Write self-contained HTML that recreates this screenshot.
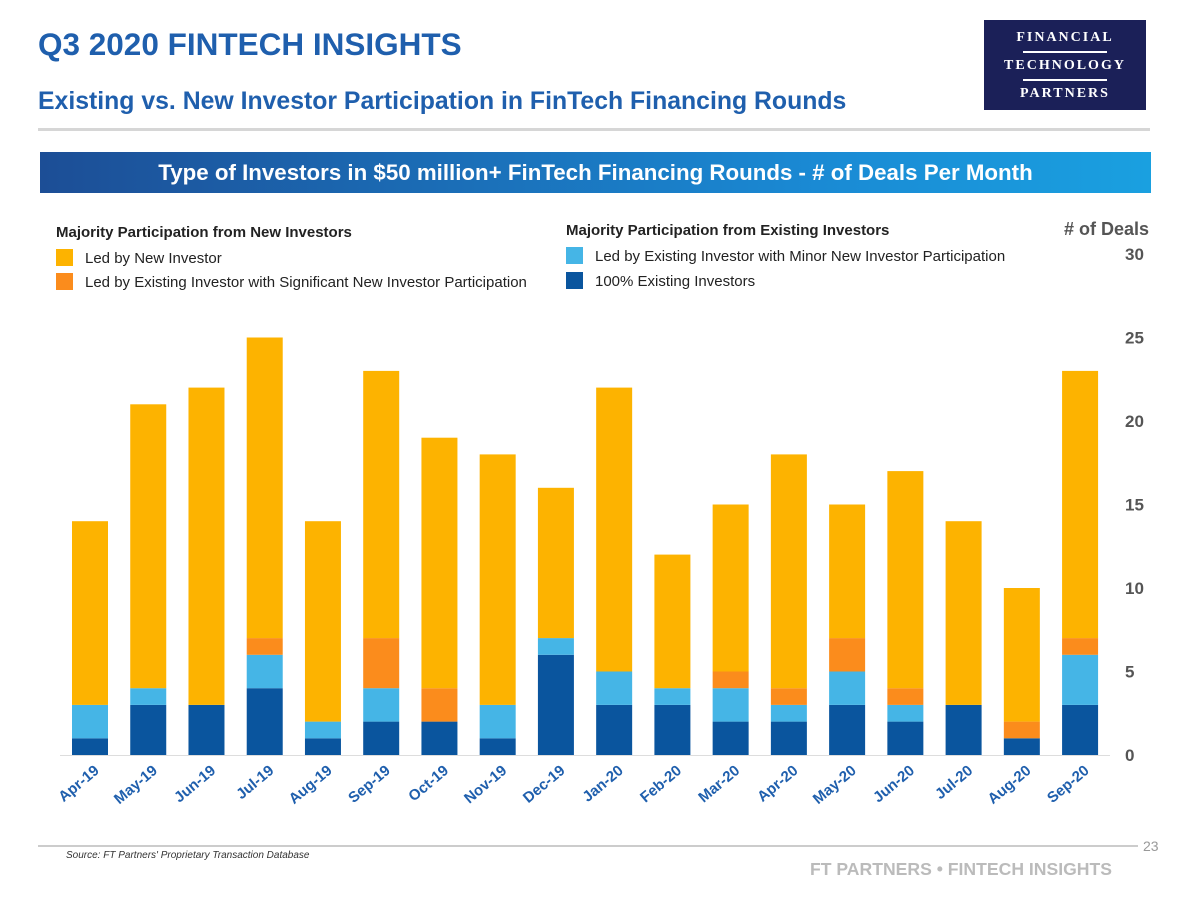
<!DOCTYPE html>
<html><head><meta charset="utf-8"><style>
body{margin:0;width:1200px;height:900px;background:#fff;font-family:"Liberation Sans",sans-serif;overflow:hidden;position:relative}
.abs{position:absolute}
</style></head><body>
<div class="abs" style="left:38px;top:26px;font-size:31.5px;font-weight:bold;color:#1f5fad">Q3 2020 FINTECH INSIGHTS</div>
<div class="abs" style="left:38px;top:88px;font-size:24.8px;font-weight:bold;color:#1f5fad">Existing vs. New Investor Participation in FinTech Financing Rounds</div>
<div class="abs" style="left:984px;top:20px;width:162px;height:90px;background:#1b2058;color:#fff;font-family:'Liberation Serif',serif;font-weight:bold;text-align:center;letter-spacing:2px;font-size:14px">
<div style="margin-top:10px">FINANCIAL</div>
<div style="width:84px;height:2px;background:#fff;margin:5px auto"></div>
<div>TECHNOLOGY</div>
<div style="width:84px;height:2px;background:#fff;margin:5px auto"></div>
<div>PARTNERS</div></div>
<div class="abs" style="left:38px;top:128px;width:1112px;height:3px;background:#d6d6d6"></div>
<div class="abs" style="left:40px;top:152px;width:1111px;height:41px;background:linear-gradient(90deg,#1c4e96,#1a8ad4 70%,#1aa0e0);color:#fff;font-size:22.3px;font-weight:bold;text-align:center;line-height:41px">Type of Investors in $50 million+ FinTech Financing Rounds - # of Deals Per Month</div>
<div class="abs" style="left:56px;top:224px;font-size:15px;font-weight:bold;color:#222">Majority Participation from New Investors</div>
<div class="abs" style="left:56px;top:249px;font-size:15px;color:#222"><span style="display:inline-block;width:17px;height:17px;background:#fdb300;vertical-align:-3px;margin-right:12px"></span>Led by New Investor</div>
<div class="abs" style="left:56px;top:273px;font-size:15px;color:#222"><span style="display:inline-block;width:17px;height:17px;background:#fb8c1c;vertical-align:-3px;margin-right:12px"></span>Led by Existing Investor with Significant New Investor Participation</div>
<div class="abs" style="left:566px;top:222px;font-size:15px;font-weight:bold;color:#222">Majority Participation from Existing Investors</div>
<div class="abs" style="left:566px;top:247px;font-size:15px;color:#222"><span style="display:inline-block;width:17px;height:17px;background:#45b5e6;vertical-align:-3px;margin-right:12px"></span>Led by Existing Investor with Minor New Investor Participation</div>
<div class="abs" style="left:566px;top:272px;font-size:15px;color:#222"><span style="display:inline-block;width:17px;height:17px;background:#0a559e;vertical-align:-3px;margin-right:12px"></span>100% Existing Investors</div>
<div class="abs" style="left:1064px;top:219px;font-size:18px;font-weight:bold;color:#555">#&nbsp;of Deals</div>
<svg class="abs" id="chart" style="left:0;top:0" width="1200" height="900"></svg>
<div class="abs" style="left:38px;top:845px;width:1100px;height:2px;background:#ccc"></div>
<div class="abs" style="left:66px;top:850px;font-size:10px;font-style:italic;color:#333">Source: FT Partners' Proprietary Transaction Database</div>
<div class="abs" style="left:1143px;top:838px;font-size:14px;color:#999">23</div>
<div class="abs" style="left:810px;top:859px;font-size:17.6px;font-weight:bold;color:#bbb">FT PARTNERS • FINTECH INSIGHTS</div>
<script>
const categories=["Apr-19","May-19","Jun-19","Jul-19","Aug-19","Sep-19","Oct-19","Nov-19","Dec-19","Jan-20","Feb-20","Mar-20","Apr-20","May-20","Jun-20","Jul-20","Aug-20","Sep-20"];
const existing100=[1,3,3,4,1,2,2,1,6,3,3,2,2,3,2,3,1,3];
const minorNew=[2,1,0,2,1,2,0,2,1,2,1,2,1,2,1,0,0,3];
const significantNew=[0,0,0,1,0,3,2,0,0,0,0,1,1,2,1,0,1,1];
const ledByNew=[11,17,19,18,12,16,15,15,9,17,8,10,14,8,13,11,8,16];
const yTicks=[0,5,10,15,20,25,30];
const svg=document.getElementById('chart');const NS='http://www.w3.org/2000/svg';
const y=v=>755-v*16.7;
const x=i=>90+i*58.24;
const bw=36;
yTicks.forEach(t=>{const e=document.createElementNS(NS,'text');


e.setAttribute('x',1125);e.setAttribute('y',y(t)+6);e.setAttribute('font-size','17');e.setAttribute('font-weight','bold');e.setAttribute('fill','#555');e.textContent=t;svg.appendChild(e);});
const series=[[existing100,'#0a559e','existing'],[minorNew,'#45b5e6','minor'],[significantNew,'#fb8c1c','significant'],[ledByNew,'#fdb300','new']];
categories.forEach((c,i)=>{let base=0;
series.forEach(([arr,col,nm])=>{const v=arr[i];if(v>0){const r=document.createElementNS(NS,'rect');


r.setAttribute('x',x(i)-bw/2);r.setAttribute('y',y(base+v));r.setAttribute('width',bw);r.setAttribute('height',y(base)-y(base+v));r.setAttribute('fill',col);svg.appendChild(r);}base+=v;});
const t=document.createElementNS(NS,'text');


t.setAttribute('font-size','15');t.setAttribute('font-weight','bold');t.setAttribute('fill','#1f5fad');t.setAttribute('text-anchor','end');
t.setAttribute('transform',`translate(${x(i)+10},${772}) rotate(-40)`);t.textContent=c;svg.appendChild(t);});
const ax=document.createElementNS(NS,'line');


ax.setAttribute('x1',60);ax.setAttribute('x2',1110);ax.setAttribute('y1',755.5);ax.setAttribute('y2',755.5);ax.setAttribute('stroke','#ddd');svg.appendChild(ax);
</script>
</body></html>
